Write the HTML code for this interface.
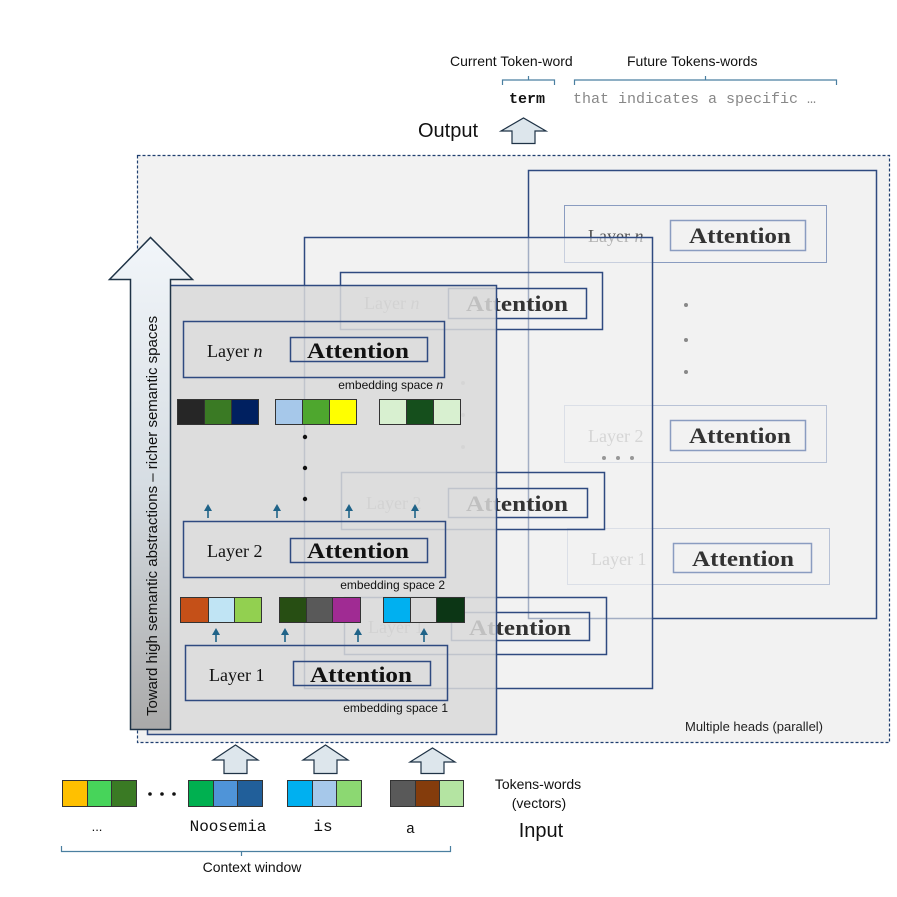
<!DOCTYPE html>
<html><head><meta charset="utf-8"><style>
html,body{margin:0;padding:0;background:#fff;}
svg{display:block;}
.sf{font-family:"Liberation Serif",serif;}
.ss{font-family:"Liberation Sans",sans-serif;}
.mo{font-family:"Liberation Mono",monospace;}
</style></head><body>
<svg width="897" height="897" viewBox="0 0 897 897" xmlns="http://www.w3.org/2000/svg">
<defs>
<linearGradient id="ag" x1="0" y1="0" x2="0" y2="1">
<stop offset="0" stop-color="#f2f6fa"/><stop offset="0.5" stop-color="#d6dde3"/><stop offset="1" stop-color="#a9a9a9"/>
</linearGradient>
</defs>
<rect x="137.5" y="155.5" width="752" height="587" fill="#f2f2f2" stroke="#1f3f70" stroke-width="1.2" stroke-dasharray="3,2"/>
<text x="685" y="731" class="ss" font-size="13" fill="#222">Multiple heads (parallel)</text>

<!-- back panel -->
<g stroke="#2f4a80" fill="none">
<rect x="528.5" y="170.5" width="348" height="448" stroke-width="1.5"/>
<rect x="564.5" y="205.5" width="262" height="57" stroke="#8a9cc0"/>
<rect x="670.5" y="220.5" width="135" height="30" stroke="#8a9cc0" stroke-width="1.5"/>
<rect x="564.5" y="405.5" width="262" height="57" stroke="#b8c2d6"/>
<rect x="670.5" y="420.5" width="135" height="30" stroke="#8a9cc0" stroke-width="1.5"/>
<rect x="567.5" y="528.5" width="262" height="56" stroke="#b8c2d6"/>
<rect x="673.5" y="543.5" width="138" height="29" stroke="#8a9cc0" stroke-width="1.5"/>
</g>
<text x="588" y="242" class="sf" font-size="18" fill="#555">Layer <tspan font-style="italic">n</tspan></text>
<text x="689" y="243" class="sf" font-size="22" font-weight="bold" fill="#333" textLength="102" lengthAdjust="spacingAndGlyphs">Attention</text>
<text x="588" y="442" class="sf" font-size="18" fill="#aaa">Layer 2</text>
<text x="689" y="443" class="sf" font-size="22" font-weight="bold" fill="#333" textLength="102" lengthAdjust="spacingAndGlyphs">Attention</text>
<text x="591" y="565" class="sf" font-size="18" fill="#aaa">Layer 1</text>
<text x="692" y="566" class="sf" font-size="22" font-weight="bold" fill="#333" textLength="102" lengthAdjust="spacingAndGlyphs">Attention</text>
<g fill="#888"><circle cx="686" cy="305" r="2"/><circle cx="686" cy="340" r="2"/><circle cx="686" cy="372" r="2"/></g>
<g fill="#111"><circle cx="604" cy="458" r="2"/><circle cx="618" cy="458" r="2"/><circle cx="632" cy="458" r="2"/></g>
<rect x="304" y="237" width="348" height="451" fill="#f2f2f2" fill-opacity="0.6"/>

<!-- middle panel -->
<g stroke="#2f4a80" fill="none">
<rect x="304.5" y="237.5" width="348" height="451" stroke-width="1.5"/>
<rect x="340.5" y="272.5" width="262" height="57" stroke-width="1.5"/>
<rect x="448.5" y="288.5" width="138" height="30" stroke-width="1.5"/>
<rect x="341.5" y="472.5" width="263" height="57" stroke-width="1.5"/>
<rect x="448.5" y="488.5" width="139" height="29" stroke-width="1.5"/>
<rect x="344.5" y="597.5" width="262" height="57" stroke-width="1.5"/>
<rect x="451.5" y="612.5" width="138" height="28" stroke-width="1.5"/>
</g>
<text x="364" y="309" class="sf" font-size="18" fill="#aaa">Layer <tspan font-style="italic">n</tspan></text>
<text x="466" y="311" class="sf" font-size="22" font-weight="bold" fill="#333" textLength="102" lengthAdjust="spacingAndGlyphs">Attention</text>
<text x="366" y="509" class="sf" font-size="18" fill="#aaa">Layer 2</text>
<text x="466" y="511" class="sf" font-size="22" font-weight="bold" fill="#333" textLength="102" lengthAdjust="spacingAndGlyphs">Attention</text>
<text x="368" y="633" class="sf" font-size="18" fill="#aaa">Layer 1</text>
<text x="469" y="635" class="sf" font-size="22" font-weight="bold" fill="#333" textLength="102" lengthAdjust="spacingAndGlyphs">Attention</text>
<g fill="#bbb"><circle cx="463" cy="383" r="2"/><circle cx="463" cy="415" r="2"/><circle cx="463" cy="447" r="2"/></g>

<!-- front panel -->
<rect x="147.5" y="285.5" width="349" height="449" fill="#d9d9d9" fill-opacity="0.85" stroke="#2f4a80" stroke-width="1.5"/>
<g stroke="#2f4a80" fill="none" stroke-width="1.5">
<rect x="183.5" y="321.5" width="261" height="56"/>
<rect x="290.5" y="337.5" width="137" height="24"/>
<rect x="183.5" y="521.5" width="262" height="56"/>
<rect x="290.5" y="538.5" width="137" height="24"/>
<rect x="185.5" y="645.5" width="262" height="55"/>
<rect x="293.5" y="661.5" width="137" height="24"/>
</g>
<text x="207" y="357" class="sf" font-size="18" fill="#111">Layer <tspan font-style="italic">n</tspan></text>
<text x="307" y="358" class="sf" font-size="22" font-weight="bold" fill="#111" textLength="102" lengthAdjust="spacingAndGlyphs">Attention</text>
<text x="207" y="557" class="sf" font-size="18" fill="#111">Layer 2</text>
<text x="307" y="558" class="sf" font-size="22" font-weight="bold" fill="#111" textLength="102" lengthAdjust="spacingAndGlyphs">Attention</text>
<text x="209" y="681" class="sf" font-size="18" fill="#111">Layer 1</text>
<text x="310" y="682" class="sf" font-size="22" font-weight="bold" fill="#111" textLength="102" lengthAdjust="spacingAndGlyphs">Attention</text>
<text x="443" y="389" class="ss" font-size="12" fill="#111" text-anchor="end">embedding space <tspan font-style="italic">n</tspan></text>
<text x="445" y="589" class="ss" font-size="12" fill="#111" text-anchor="end">embedding space 2</text>
<text x="448" y="712" class="ss" font-size="12" fill="#111" text-anchor="end">embedding space 1</text>

<g stroke="#333" stroke-width="1">
<rect x="177.5" y="399.5" width="27" height="25" fill="#262626"/>
<rect x="204.5" y="399.5" width="27" height="25" fill="#3a7a24"/>
<rect x="231.5" y="399.5" width="27" height="25" fill="#002060"/>
<rect x="275.5" y="399.5" width="27" height="25" fill="#a6c8ea"/>
<rect x="302.5" y="399.5" width="27" height="25" fill="#4ea72e"/>
<rect x="329.5" y="399.5" width="27" height="25" fill="#ffff00"/>
<rect x="379.5" y="399.5" width="27" height="25" fill="#d8f0d0"/>
<rect x="406.5" y="399.5" width="27" height="25" fill="#154f1c"/>
<rect x="433.5" y="399.5" width="27" height="25" fill="#d8f0d0"/>
<rect x="180.5" y="597.5" width="28" height="25" fill="#c55018"/>
<rect x="208.5" y="597.5" width="26" height="25" fill="#c0e4f4"/>
<rect x="234.5" y="597.5" width="27" height="25" fill="#92d050"/>
<rect x="279.5" y="597.5" width="27" height="25" fill="#274e13"/>
<rect x="306.5" y="597.5" width="26" height="25" fill="#595959"/>
<rect x="332.5" y="597.5" width="28" height="25" fill="#a02b93"/>
<rect x="383.5" y="597.5" width="27" height="25" fill="#00b0f0"/>
<rect x="410.5" y="597.5" width="26" height="25" fill="#d9d9d9"/>
<rect x="436.5" y="597.5" width="28" height="25" fill="#0c3615"/>
</g>
<g fill="#111"><circle cx="305" cy="437" r="2.2"/><circle cx="305" cy="468" r="2.2"/><circle cx="305" cy="499" r="2.2"/></g>
<g fill="#1f6388" stroke="#1f6388" stroke-width="1.6">
<line x1="208" y1="518" x2="208" y2="509"/><path d="M204,511 L208,504 L212,511Z" stroke="none"/>
<line x1="277" y1="518" x2="277" y2="509"/><path d="M273,511 L277,504 L281,511Z" stroke="none"/>
<line x1="349" y1="518" x2="349" y2="509"/><path d="M345,511 L349,504 L353,511Z" stroke="none"/>
<line x1="415" y1="518" x2="415" y2="509"/><path d="M411,511 L415,504 L419,511Z" stroke="none"/>
<line x1="216" y1="642" x2="216" y2="633"/><path d="M212,635 L216,628 L220,635Z" stroke="none"/>
<line x1="285" y1="642" x2="285" y2="633"/><path d="M281,635 L285,628 L289,635Z" stroke="none"/>
<line x1="358" y1="642" x2="358" y2="633"/><path d="M354,635 L358,628 L362,635Z" stroke="none"/>
<line x1="424" y1="642" x2="424" y2="633"/><path d="M420,635 L424,628 L428,635Z" stroke="none"/>
</g>

<path d="M130.5,729.5 L130.5,279.5 L109.5,279.5 L150.5,237.5 L192.5,279.5 L170.5,279.5 L170.5,729.5 Z" fill="url(#ag)" stroke="#1f3346" stroke-width="1.5"/>
<text transform="translate(157,716) rotate(-90)" class="ss" font-size="15" fill="#111">Toward high semantic abstractions  – richer semantic spaces</text>

<text x="450" y="66" class="ss" font-size="14" fill="#111">Current Token-word</text>
<text x="627" y="66" class="ss" font-size="14" fill="#111">Future Tokens-words</text>
<g stroke="#4a7fa0" fill="none" stroke-width="1.2">
<path d="M502.5,85 L502.5,80 L554.5,80 L554.5,85 M528.5,80 L528.5,76"/>
<path d="M574.5,85 L574.5,80 L836.5,80 L836.5,85 M705.5,80 L705.5,76"/>
</g>
<text x="509" y="103" class="mo" font-size="15" fill="#111" font-weight="bold">term</text>
<text x="573" y="103" class="mo" font-size="15" fill="#888">that indicates a specific …</text>
<text x="418" y="137" class="ss" font-size="20" fill="#111">Output</text>
<path d="M512,143.5 L512,131 L501,131 L523.5,118 L546,131 L535,131 L535,143.5 Z" fill="#dde6ec" stroke="#1f3346" stroke-width="1.2"/>

<g fill="#dde6ec" stroke="#1f3346" stroke-width="1.2">
<path d="M224,773.5 L224,760 L213,760 L235.5,745 L258,760 L247,760 L247,773.5 Z"/>
<path d="M314,773.5 L314,760 L303,760 L325.5,745 L348,760 L337,760 L337,773.5 Z"/>
<path d="M421,773.5 L421,762 L410,762 L432.5,748 L455,762 L444,762 L444,773.5 Z"/>
</g>
<g stroke="#333" stroke-width="1">
<rect x="62.5" y="780.5" width="25" height="26" fill="#ffc000"/>
<rect x="87.5" y="780.5" width="24" height="26" fill="#47d45a"/>
<rect x="111.5" y="780.5" width="25" height="26" fill="#3a7a24"/>
<rect x="188.5" y="780.5" width="25" height="26" fill="#00b050"/>
<rect x="213.5" y="780.5" width="24" height="26" fill="#4f94d8"/>
<rect x="237.5" y="780.5" width="25" height="26" fill="#215f9a"/>
<rect x="287.5" y="780.5" width="25" height="26" fill="#00b0f0"/>
<rect x="312.5" y="780.5" width="24" height="26" fill="#a6c8ea"/>
<rect x="336.5" y="780.5" width="25" height="26" fill="#8cd872"/>
<rect x="390.5" y="780.5" width="25" height="26" fill="#595959"/>
<rect x="415.5" y="780.5" width="24" height="26" fill="#843c0c"/>
<rect x="439.5" y="780.5" width="24" height="26" fill="#b4e4a2"/>
</g>
<g fill="#111"><circle cx="150" cy="794" r="1.8"/><circle cx="162" cy="794" r="1.8"/><circle cx="174" cy="794" r="1.8"/></g>
<text x="97" y="831" class="ss" font-size="13" fill="#111" text-anchor="middle">...</text>
<text x="228" y="831" class="mo" font-size="16" fill="#111" text-anchor="middle">Noosemia</text>
<text x="323" y="831" class="mo" font-size="16" fill="#111" text-anchor="middle">is</text>
<text x="406" y="833" class="mo" font-size="15" fill="#111">a</text>
<text x="538" y="789" class="ss" font-size="14" fill="#111" text-anchor="middle">Tokens-words</text>
<text x="539" y="808" class="ss" font-size="14" fill="#111" text-anchor="middle">(vectors)</text>
<text x="541" y="837" class="ss" font-size="20" fill="#111" text-anchor="middle">Input</text>
<path d="M61.5,846 L61.5,851.5 L450.5,851.5 L450.5,846 M241.5,851.5 L241.5,856" stroke="#4a7fa0" fill="none" stroke-width="1.2"/>
<text x="252" y="872" class="ss" font-size="14" fill="#111" text-anchor="middle">Context window</text>
</svg>
</body></html>
